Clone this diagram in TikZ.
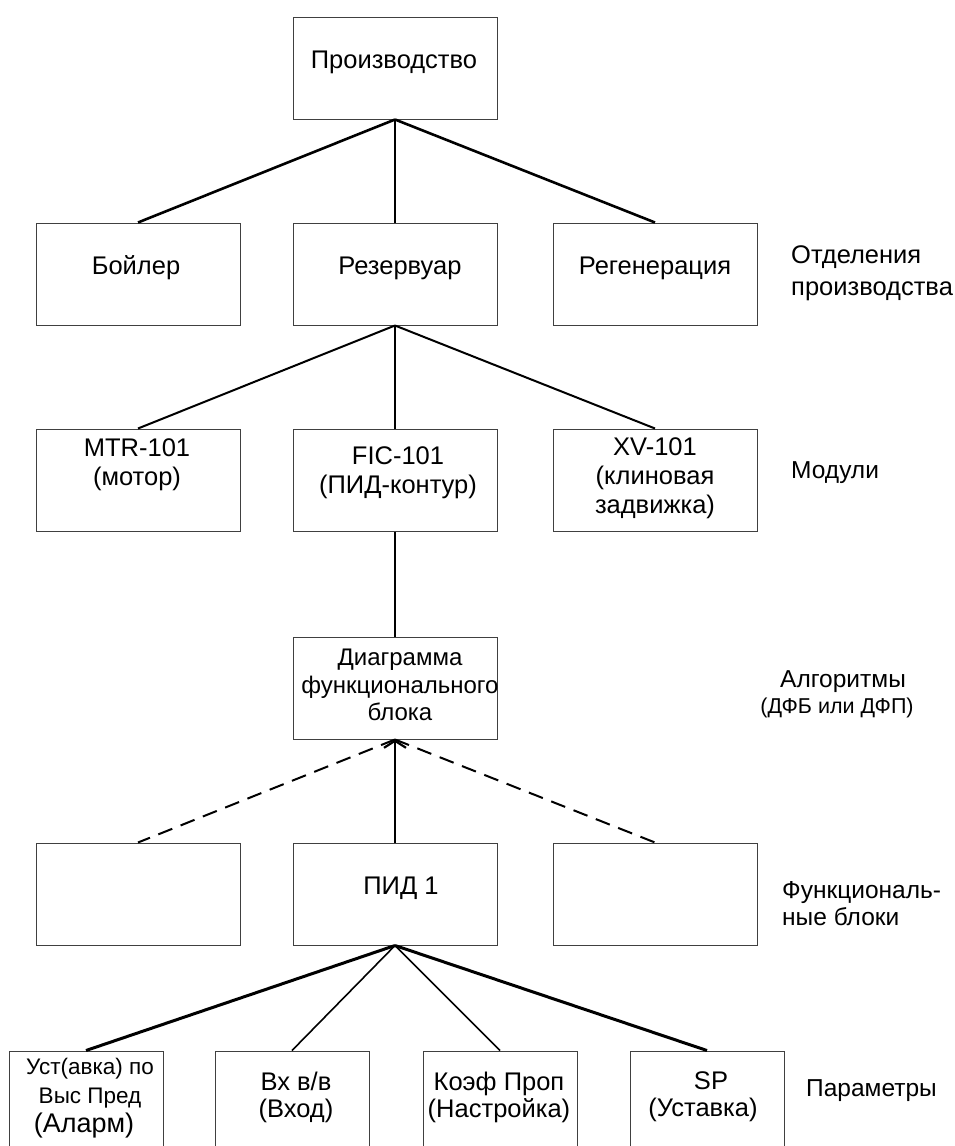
\documentclass[tikz,border=0pt]{standalone}
\usepackage{fontspec}
\setmainfont{Liberation Sans}
\usetikzlibrary{arrows.meta}

\begin{document}
\begin{tikzpicture}[x=1pt,y=-1pt]
            \tikzstyle{every node}+=[inner sep=0pt, font=\fontsize{25.5}{29}\selectfont]
            \tikzstyle{blk}=[draw=black!75, line width=1pt, minimum width=204, minimum height=102]
            \tikzstyle{pblk}=[draw=black!75, line width=1pt, minimum width=154, minimum height=112]
            \tikzstyle{txt}=[align=center]
            \tikzstyle{side}=[anchor=west, align=left, font=\fontsize{24.5}{29}\selectfont]
            \useasboundingbox (0,0) rectangle (954,1146);
            \clip (0,0) rectangle (954,1146);
            % boxes
            \node [blk] (prod) at (395,68) {};
            \node [blk] (boil) at (138,274) {};
            \node [blk] (resv) at (395,274) {};
            \node [blk] (regen) at (655,274) {};
            \node [blk] (mtr) at (138,480) {};
            \node [blk] (fic) at (395,480) {};
            \node [blk] (xv) at (655,480) {};
            \node [blk] (fbd) at (395,688) {};
            \node [blk] (fbl) at (138,894) {};
            \node [blk] (pid) at (395,894) {};
            \node [blk] (fbr) at (655,894) {};
            \node [pblk] (hilim) at (86,1107) {};
            \node [pblk] (pvin) at (292,1107) {};
            \node [pblk] (gain) at (500,1107) {};
            \node [pblk] (setp) at (707,1107) {};
            % texts in boxes
            \node [txt] (prod-t) at (394,62) {Производство};
            \node [txt] (boil-t) at (136,268) {Бойлер};
            \node [txt] (resv-t) at (400,268) {Резервуар};
            \node [txt] (regen-t) at (655,268) {Регенерация};
            \node [txt] (mtr-t) at (137,465) {MTR-101\\(мотор)};
            \node [txt] (fic-t) at (398,473) {FIC-101\\(ПИД-контур)};
            \node [txt] (xv-t) at (655,478) {XV-101\\(клиновая\\задвижка)};
            \node [txt, font=\fontsize{24}{27.5}\selectfont] (fbd-t) at (400,685) {Диаграмма\\функционального\\блока};
            \node [txt] (pid-t) at (401,888) {ПИД 1};
            \node [txt, font=\fontsize{22.5}{29}\selectfont] (hilim-t) at (90,1083) {Уст(авка) по\\Выс Пред};
            \node [txt, font=\fontsize{27}{32}\selectfont] (alarm-t) at (84,1126) {(Аларм)};
            \node [txt, font=\fontsize{25.5}{27}\selectfont] (pvin-t) at (296,1097) {Вх в/в\\(Вход)};
            \node [txt, font=\fontsize{25.5}{27}\selectfont] (gain-t) at (499,1097) {\hfill Коэф Проп\\(Настройка)};
            \node [txt, font=\fontsize{25.5}{27}\selectfont] (setp-t) at (703,1097) {\hspace*{16pt}SP\\(Уставка)};
            % level names
            \node [side, font=\fontsize{25.5}{32}\selectfont] (lvl-dep) at (791,273) {Отделения\\производства};
            \node [side] (lvl-mod) at (791,473) {Модули};
            \node [txt, font=\fontsize{24.5}{29}\selectfont] (lvl-alg) at (843,682) {Алгоритмы};
            \node [txt, font=\fontsize{21.5}{26}\selectfont] (lvl-alg2) at (837,708) {(ДФБ или ДФП)};
            \node [side, font=\fontsize{24.5}{27}\selectfont] (lvl-fb) at (782,904) {Функциональ-\\ные блоки};
            \node [side] (lvl-par) at (806,1091) {Параметры};
            % connectors
            \draw [line width=2.6pt] (prod.south) -- (boil.north);
            \draw [line width=2.6pt] (prod.south) -- (resv.north);
            \draw [line width=2.6pt] (prod.south) -- (regen.north);
            \draw [line width=2pt] (resv.south) -- (mtr.north);
            \draw [line width=2pt] (resv.south) -- (fic.north);
            \draw [line width=2pt] (resv.south) -- (xv.north);
            \draw [line width=2.2pt] (fic.south) -- (fbd.north);
            \draw [line width=2pt, dash pattern=on 15pt off 9pt] (fbd.south) -- (fbl.north);
            \draw [line width=2pt, dash pattern=on 15pt off 9pt] (fbd.south) -- (fbr.north);
            \draw [line width=2.2pt, -{Straight Barb[length=7pt,width=22pt]}] (pid.north) -- (fbd.south);
            \draw [line width=3pt] (pid.south) -- (hilim.north);
            \draw [line width=1.6pt] (pid.south) -- (pvin.north);
            \draw [line width=1.6pt] (pid.south) -- (gain.north);
            \draw [line width=3pt] (pid.south) -- (setp.north);
        \end{tikzpicture}
\end{document}
